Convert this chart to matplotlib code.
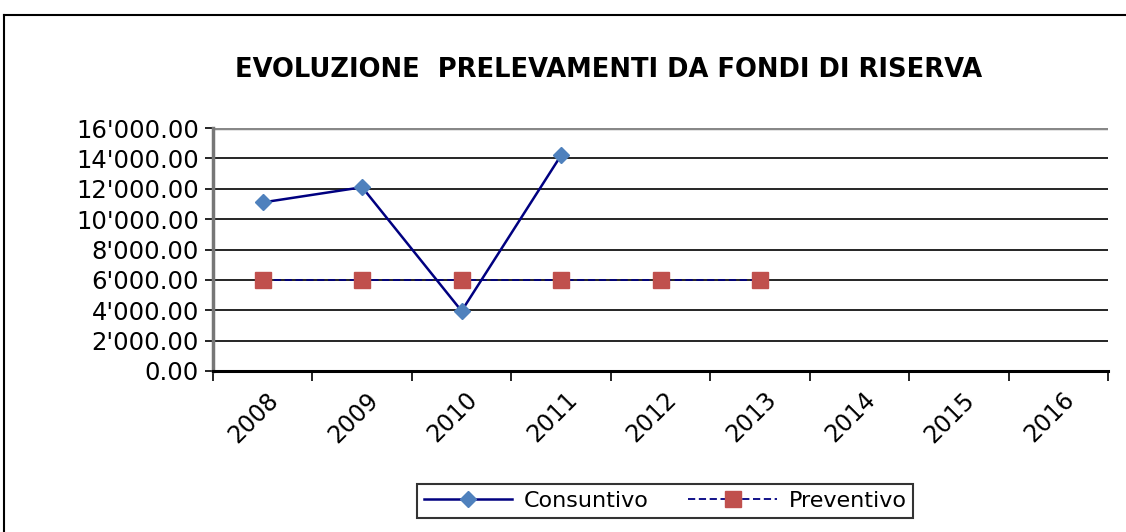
import matplotlib.pyplot as plt
from matplotlib.lines import Line2D
from matplotlib.ticker import FuncFormatter, FixedLocator

plt.rcParams['font.family'] = ['DejaVu Sans']

anni = ['2008', '2009', '2010', '2011', '2012', '2013', '2014', '2015', '2016']
consuntivo = [11100, 12100, 3950, 14200]
preventivo = [6000, 6000, 6000, 6000, 6000, 6000]

fig = plt.figure(figsize=(11.26, 5.32), dpi=100)
ax = fig.add_axes([213/1126, 1-371/532, (1108-213)/1126, (371-128)/532])

x_c = list(range(len(consuntivo)))
x_p = list(range(len(preventivo)))
ax.plot(x_c, consuntivo, color='#000080', lw=1.8, marker='D', ms=8.5,
        mfc='#4F81BD', mec='#4F81BD', label='Consuntivo', zorder=4)
ax.plot(x_p, preventivo, color='#000080', lw=1.3, ls=(0, (4, 2)), marker='s', ms=11,
        mfc='#C0504D', mec='#C0504D', label='Preventivo', zorder=3)

ax.set_ylim(0, 16000)
ax.set_xlim(-0.5, len(anni) - 0.5)
ax.set_yticks(range(0, 16001, 2000))
ax.yaxis.set_major_formatter(FuncFormatter(lambda v, p: f"{v:,.2f}".replace(',', "'")))
ax.grid(axis='y', color='black', lw=1.2)
ax.set_axisbelow(True)

# year labels sit a little left of the category centre, as in the original
ax.set_xticks([i - 0.09 for i in range(len(anni))])
ax.set_xticklabels(anni, rotation=45, ha='center', va='top', fontsize=17)
ax.tick_params(axis='x', which='major', length=0, pad=12)
ax.xaxis.set_minor_locator(FixedLocator([i - 0.5 for i in range(len(anni) + 1)]))
ax.tick_params(axis='x', which='minor', length=7, width=1.2, direction='out')
ax.tick_params(axis='y', labelsize=17.5, length=6, width=1.2, direction='out', pad=4)

for s in ['top', 'right']:
    ax.spines[s].set_visible(False)
ax.spines['left'].set_color('#777777')
ax.spines['left'].set_linewidth(2.5)
ax.spines['bottom'].set_linewidth(2.2)
ax.axhline(16000, color='#888888', lw=2.5)

fig.text(609/1126, 1-70/532, 'EVOLUZIONE  PRELEVAMENTI DA FONDI DI RISERVA',
         ha='center', va='center', fontsize=18.5, fontweight='bold')

leg = fig.legend(loc='center', bbox_to_anchor=(665/1126, 1-501/532), ncol=2,
                 fontsize=16, frameon=True, fancybox=False, edgecolor='black',
                 handlelength=4.0, handletextpad=0.5, columnspacing=1.8, borderpad=0.3)
leg.get_frame().set_linewidth(1.5)

# outer chart border
fig.add_artist(Line2D([4/1126, 4/1126], [0, 1-15/532], transform=fig.transFigure, color='black', lw=1.5))
fig.add_artist(Line2D([4/1126, 1], [1-15/532, 1-15/532], transform=fig.transFigure, color='black', lw=1.5))

plt.savefig('out.png', dpi=100)
